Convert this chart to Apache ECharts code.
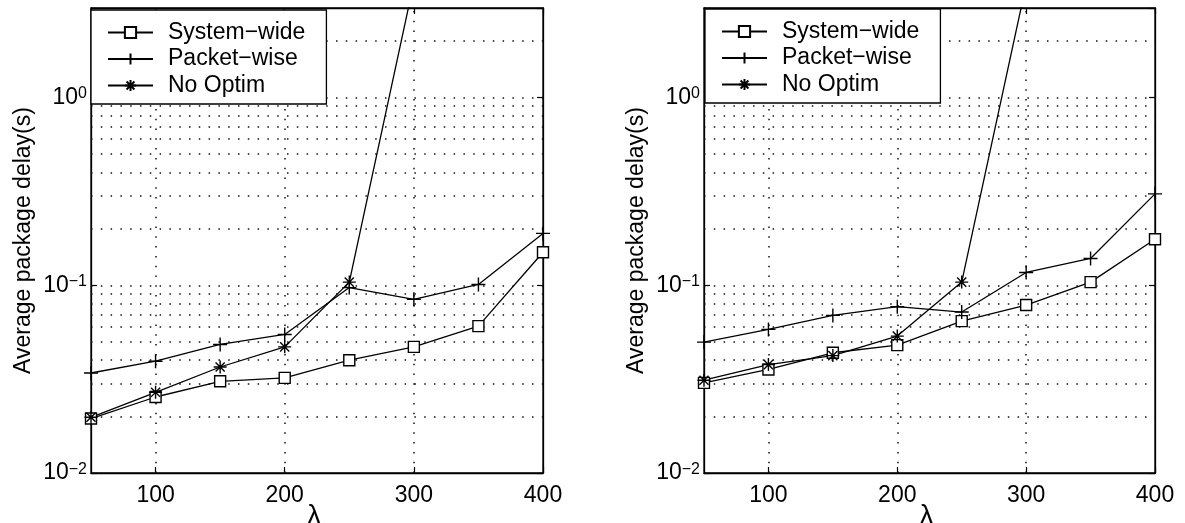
<!DOCTYPE html>
<html>
<head>
<meta charset="utf-8">
<script src="https://cdn.jsdelivr.net/npm/echarts@6/dist/echarts.min.js"></script>
<style>
  html, body { margin: 0; padding: 0; background: #fff; }
  #chart { width: 1185px; height: 523px; }
</style>
</head>
<body>
<div id="chart"></div>
<script>
// arrival rate (lambda) on the x axis
const lambdaVals = [50, 100, 150, 200, 250, 300, 350, 400];
const lambdaTicks = [100, 200, 300, 400];
const lambdaGrid = [100, 200, 300];
// dotted grid lines of the log y axis
const delayGrid = [0.02, 0.03, 0.04, 0.05, 0.06, 0.07, 0.08, 0.09, 0.1,
  0.2, 0.3, 0.4, 0.5, 0.6, 0.7, 0.8, 0.9, 1, 2];

const seriesNames = ['System\u2212wide', 'Packet\u2212wise', 'No Optim'];

// left plot, average delay (s)
const leftSystemWide = [0.0195, 0.0254, 0.0308, 0.0321, 0.0399, 0.0470, 0.0606, 0.150];
const leftPacketWise = [0.0341, 0.0394, 0.0484, 0.0547, 0.0972, 0.0842, 0.101, 0.189];
const leftNoOptim = [0.0198, 0.0269, 0.0367, 0.0470, 0.104, 4.1];

// right plot, average delay (s)
const rightSystemWide = [0.0302, 0.0356, 0.0437, 0.0480, 0.0644, 0.0785, 0.104, 0.176];
const rightPacketWise = [0.0498, 0.0582, 0.0691, 0.0769, 0.0720, 0.117, 0.139, 0.307];
const rightNoOptim = [0.0312, 0.0378, 0.0422, 0.0536, 0.104, 4.0];

const FONT = '"Liberation Sans", Arial, Helvetica, sans-serif';
const INK = '#000';

const plusPath = 'path://M0,5L10,5M5,0L5,10';
const starPath = 'path://M5,0L5,10M0,5L10,5M1.5,1.5L8.5,8.5M8.5,1.5L1.5,8.5';

const chart = echarts.init(document.getElementById('chart'), null, { renderer: 'canvas' });

const pairs = (vals) => vals.map((v, i) => [lambdaVals[i], v]);

const gridDots = {
  silent: true,
  symbol: ['none', 'none'],
  label: { show: false },
  lineStyle: { color: '#111', width: 1.5, type: [1.5, 8.3] },
  emphasis: { disabled: true },
  animation: false,
};

const makeSeries = (gi, data) => [
  {
    name: seriesNames[0], type: 'line', xAxisIndex: gi * 2, yAxisIndex: gi * 2,
    data: pairs(data[0]), symbol: 'rect', symbolSize: 11,
    itemStyle: { color: '#fff', borderColor: INK, borderWidth: 1.4 },
    lineStyle: { color: INK, width: 1.3 },
    z: 5,
    markLine: Object.assign({
      data: delayGrid.map(v => ({ yAxis: v })).concat(lambdaGrid.map(v => ({ xAxis: v })))
    }, gridDots)
  },
  {
    name: seriesNames[1], type: 'line', xAxisIndex: gi * 2, yAxisIndex: gi * 2,
    data: pairs(data[1]), symbol: plusPath, symbolSize: 14,
    itemStyle: { color: INK, borderColor: INK, borderWidth: 1.4 },
    lineStyle: { color: INK, width: 1.3 },
    z: 5
  },
  {
    name: seriesNames[2], type: 'line', xAxisIndex: gi * 2, yAxisIndex: gi * 2,
    data: pairs(data[2]), symbol: starPath, symbolSize: 13,
    itemStyle: { color: INK, borderColor: INK, borderWidth: 1.4 },
    lineStyle: { color: INK, width: 1.3 },
    z: 5, clip: true
  }
];

const xAxisMain = (gi) => ({
  type: 'value', gridIndex: gi, min: 50, max: 400, interval: 50,
  name: '\u03bb', nameLocation: 'middle', nameGap: 30, nameMoveOverlap: false,
  nameTextStyle: { fontFamily: FONT, fontSize: 27, color: INK, padding: [0, 6, 0, 0] },
  axisLine: { lineStyle: { color: INK, width: 1.3 } },
  axisTick: { inside: true, length: 6, customValues: lambdaTicks, lineStyle: { color: INK, width: 1.2 } },
  axisLabel: {
    customValues: lambdaTicks, margin: 11,
    fontFamily: FONT, fontSize: 23, color: INK,
    formatter: v => (v % 100 === 0 ? String(v) : '')
  },
  splitLine: { show: false }
});

const xAxisTop = (gi) => ({
  type: 'value', gridIndex: gi, position: 'top', min: 50, max: 400, interval: 50,
  axisLine: { lineStyle: { color: INK, width: 1.3 } },
  axisTick: { inside: true, length: 6, customValues: lambdaTicks, lineStyle: { color: INK, width: 1.2 } },
  axisLabel: { show: false },
  splitLine: { show: false }
});

const powLabel = (v) => {
  const lg = Math.log10(v);
  const e = Math.round(lg);
  if (Math.abs(lg - e) > 1e-6) return '';
  const ex = e < 0 ? '\u2212' + (-e) : String(e);
  return '{b|10}{s|' + ex + '}';
};

const yAxisMain = (gi) => ({
  type: 'log', gridIndex: gi, min: 0.01, max: 3, logBase: 10,
  name: 'Average package delay(s)', nameLocation: 'middle', nameGap: 56, nameRotate: 90,
  nameMoveOverlap: false,
  nameTextStyle: { fontFamily: FONT, fontSize: 23, color: INK },
  axisLine: { show: true, lineStyle: { color: INK, width: 1.3 } },
  axisTick: { inside: true, length: 6, lineStyle: { color: INK, width: 1.2 } },
  axisLabel: {
    margin: 4, formatter: powLabel, color: INK,
    rich: {
      b: { fontFamily: FONT, fontSize: 23, color: INK, lineHeight: 23, verticalAlign: 'bottom' },
      s: { fontFamily: FONT, fontSize: 16, color: INK, lineHeight: 16, verticalAlign: 'top', padding: [0, 0, 21, 0] }
    }
  },
  splitLine: { show: false }
});

const yAxisRight = (gi) => ({
  type: 'log', gridIndex: gi, position: 'right', min: 0.01, max: 3, logBase: 10,
  axisLine: { show: true, lineStyle: { color: INK, width: 1.3 } },
  axisTick: { inside: true, length: 6, lineStyle: { color: INK, width: 1.2 } },
  axisLabel: { show: false },
  splitLine: { show: false }
});

const legendBox = (left, top) => ({
  left: left, top: top, orient: 'vertical',
  data: seriesNames, selectedMode: false,
  backgroundColor: '#fff', borderColor: INK, borderWidth: 1.3, borderRadius: 0,
  padding: [11, 21, 7, 16],
  itemWidth: 45, itemHeight: 14, itemGap: 3.5,
  textStyle: { fontFamily: FONT, fontSize: 23, color: INK, lineHeight: 22, padding: [0, 0, 0, 10] },
  z: 20
});

const option = {
  animation: false,
  backgroundColor: '#fff',
  grid: [
    { left: 91, right: 642, top: 8, bottom: 50, show: true, borderColor: INK, borderWidth: 1.3, outerBoundsMode: 'none' },
    { left: 704, right: 30, top: 8, bottom: 50, show: true, borderColor: INK, borderWidth: 1.3, outerBoundsMode: 'none' }
  ],
  xAxis: [xAxisMain(0), xAxisTop(0), xAxisMain(1), xAxisTop(1)],
  yAxis: [yAxisMain(0), yAxisRight(0), yAxisMain(1), yAxisRight(1)],
  legend: [legendBox(91, 10), legendBox(705, 9)],
  series: [
    ...makeSeries(0, [leftSystemWide, leftPacketWise, leftNoOptim]),
    ...makeSeries(1, [rightSystemWide, rightPacketWise, rightNoOptim])
  ]
};

chart.setOption(option);
</script>
</body>
</html>
